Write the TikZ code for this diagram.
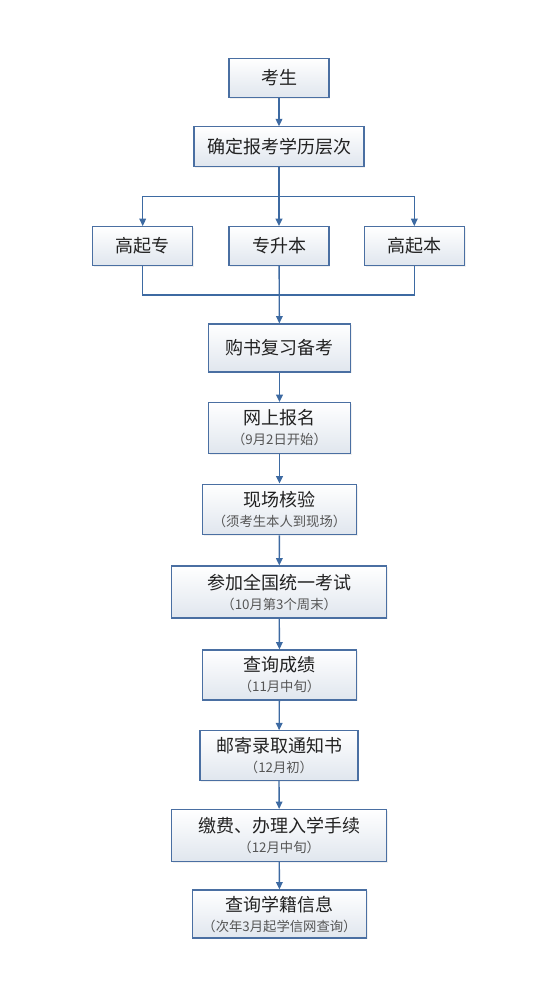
\documentclass[tikz,border=0pt]{standalone}
\usepackage{fontspec}
\setmainfont{Noto Sans CJK SC}
\usetikzlibrary{arrows.meta,shadows}
\definecolor{bordc}{HTML}{4A6FA2}
\definecolor{arrc}{HTML}{3D6AA2}
\definecolor{botc}{HTML}{E0E6EE}
\definecolor{txtc}{HTML}{222222}
\definecolor{subc}{HTML}{555555}
\tikzset{
  box/.style={draw=bordc, line width=0.9pt, rectangle, inner sep=0pt,
    top color=white, bottom color=botc, text=txtc, align=center,
    font=\fontsize{13.5pt}{15pt}\selectfont,
    drop shadow={opacity=0.12, shadow xshift=1pt, shadow yshift=-1pt}},
  conn/.style={draw=arrc, line width=1pt},
  arr/.style={conn, -{Triangle[length=5.5pt,width=5pt]}},
}
\newcommand{\subt}[1]{\\[0pt]{\fontsize{10pt}{11pt}\selectfont\color{subc}#1}}
\begin{document}
\begin{tikzpicture}[x=0.75pt,y=-0.75pt]
\useasboundingbox (0,0) rectangle (550,1006);
\node[box, minimum width=75pt, minimum height=29.5pt] (ks) at (279,78) {考生};
\node[box, minimum width=127.5pt, minimum height=29.5pt] (qd) at (279,146.5) {确定报考学历层次};
\node[box, minimum width=75pt, minimum height=29pt] (gz) at (142.7,246) {高起专};
\node[box, minimum width=75pt, minimum height=29pt] (zs) at (279,246) {专升本};
\node[box, minimum width=75pt, minimum height=29pt] (gb) at (414.3,246) {高起本};
\node[box, minimum width=107pt, minimum height=36pt] (gs) at (279.5,348) {购书复习备考};
\node[box, minimum width=107pt, minimum height=38pt] (ws) at (279.5,428) {网上报名\subt{（9月2日开始）}};
\node[box, minimum width=116pt, minimum height=38pt] (xc) at (279.5,509.5) {现场核验\subt{（须考生本人到现场）}};
\node[box, minimum width=161pt, minimum height=39pt] (cj) at (279.2,592) {参加全国统一考试\subt{（10月第3个周末）}};
\node[box, minimum width=116pt, minimum height=37.5pt] (cx) at (279.5,675) {查询成绩\subt{（11月中旬）}};
\node[box, minimum width=118.5pt, minimum height=37pt] (yj) at (279,755.5) {邮寄录取通知书\subt{（12月初）}};
\node[box, minimum width=161pt, minimum height=39pt] (jf) at (279.2,835.5) {缴费、办理入学手续\subt{（12月中旬）}};
\node[box, minimum width=131pt, minimum height=36pt] (xj) at (279.5,914) {查询学籍信息\subt{（次年3月起学信网查询）}};
\coordinate (br) at (279,196.7);
\coordinate (mg) at (279,295);
\draw[arr] (ks) -- (qd);
\draw[arr] (qd) -- (zs);
\draw[arr] (br) -| (gz.north);
\draw[arr] (br) -| (gb.north);
\draw[conn] (gz.south) |- (mg) -| (gb.south);
\draw[arr] (zs) -- (gs);
\draw[arr] (gs) -- (ws);
\draw[arr] (ws) -- (xc);
\draw[arr] (xc) -- (cj);
\draw[arr] (cj) -- (cx);
\draw[arr] (cx) -- (yj);
\draw[arr] (yj) -- (jf);
\draw[arr] (jf) -- (xj);
\end{tikzpicture}
\end{document}
